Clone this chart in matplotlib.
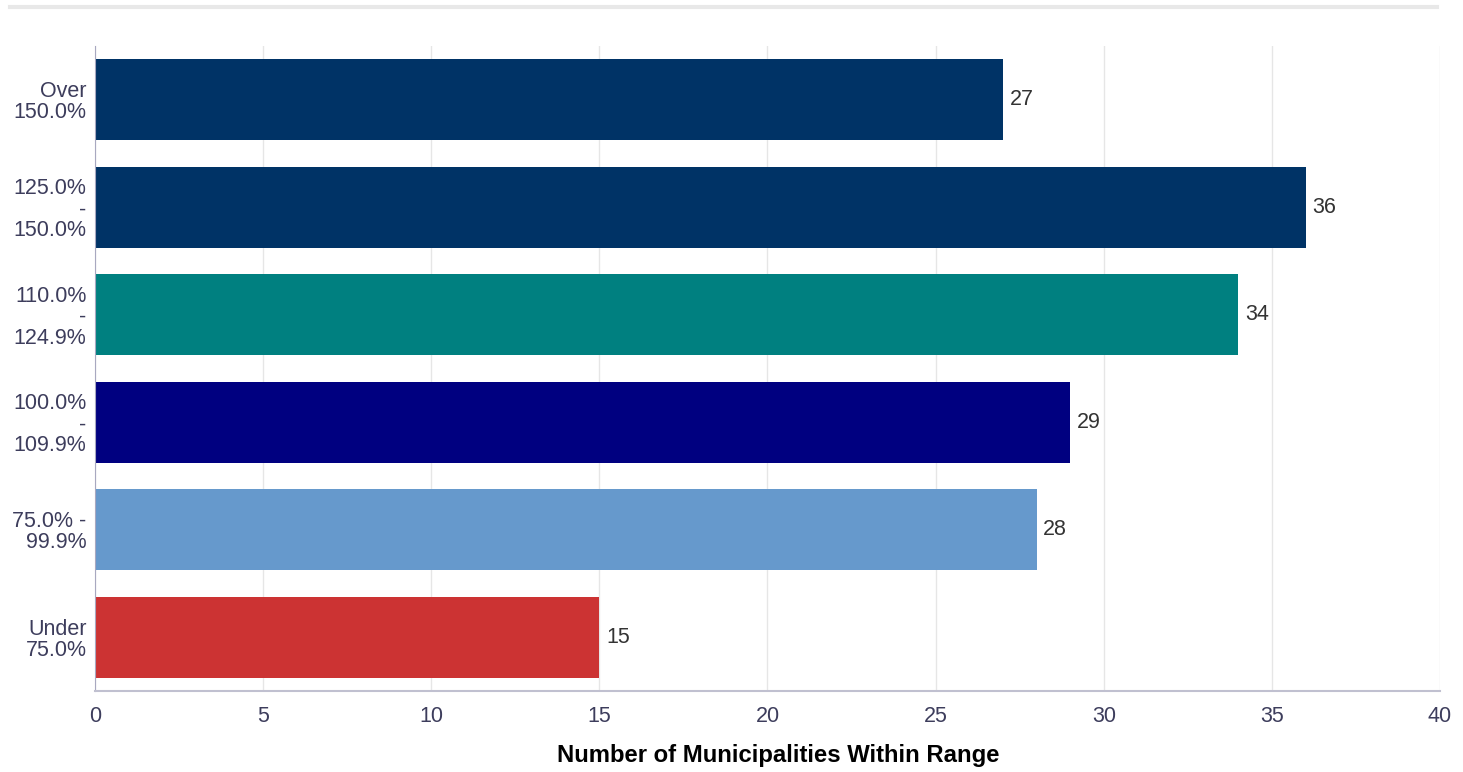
import numpy as np
import matplotlib.pyplot as plt
from matplotlib.lines import Line2D

plt.rcParams['font.family'] = ['Liberation Sans', 'DejaVu Sans']

# Categories listed bottom to top
ranges = ['Under\n75.0%', '75.0% -\n99.9%', '100.0%\n-\n109.9%',
          '110.0%\n-\n124.9%', '125.0%\n-\n150.0%', 'Over\n150.0%']
counts = [15, 28, 29, 34, 36, 27]
colors = ['#cc3333', '#6699cc', '#000080', '#008080', '#003366', '#003366']

fig = plt.figure(figsize=(14.63, 7.72), dpi=100)
ax = fig.add_axes([0.0649, 0.1049, 0.9194, 0.8355])

y = np.arange(len(ranges))
bars = ax.barh(y, counts, height=0.75, color=colors, zorder=2)
for rect, val in zip(bars, counts):
    ax.text(rect.get_width() + 0.2, rect.get_y() + rect.get_height() / 2,
            str(val), va='center', ha='left', fontsize=15.5, color='#333333')

ax.set_xlim(0, 40)
ax.set_ylim(-0.5, len(ranges) - 0.5)
ax.set_xticks(np.arange(0, 41, 5))
ax.set_yticks(y)
ax.set_yticklabels(ranges, multialignment='right', linespacing=1.0)

ax.grid(axis='x', color='#e6e6e6', linewidth=1, zorder=0)
ax.grid(axis='y', visible=False)
for side in ['top', 'right']:
    ax.spines[side].set_visible(False)
ax.spines['left'].set_color('#a8a8c0')
ax.spines['bottom'].set_color('#c0c0d0')
ax.spines['bottom'].set_linewidth(1.5)
ax.tick_params(axis='both', length=0, labelsize=15.5, colors='#3d3d5c')
ax.tick_params(axis='x', pad=11)
ax.tick_params(axis='y', pad=6)

ax.set_xlabel('Number of Municipalities Within Range', fontsize=17.2,
              fontweight='bold', color='black')
ax.xaxis.set_label_coords(0.508, -0.082, transform=ax.transAxes)

# thin rule across the top of the figure
fig.add_artist(Line2D([0.007, 0.982], [0.991, 0.991], color='#e8e8e8',
                      linewidth=3, transform=fig.transFigure))

fig.savefig('out.png', dpi=100)
